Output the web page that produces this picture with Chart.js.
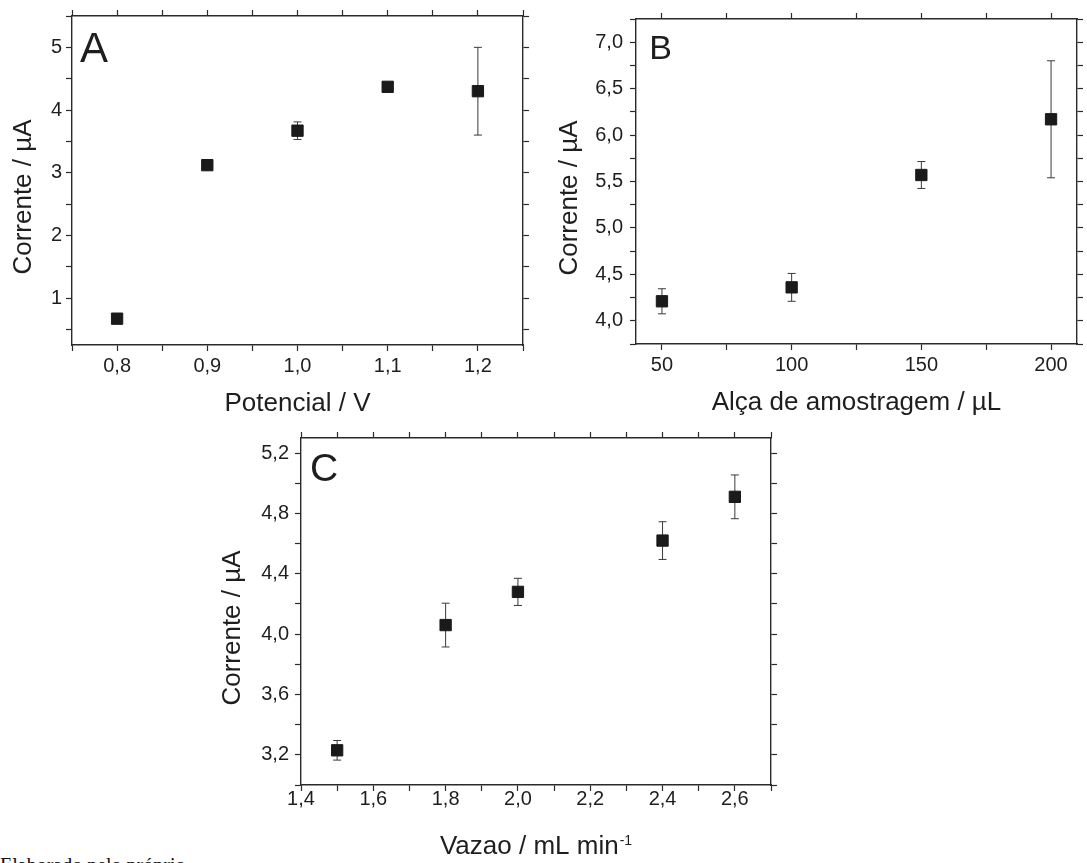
<!DOCTYPE html>
<html>
<head>
<meta charset="utf-8" />
<title>Corrente vs. parametros</title>
<script src="https://cdn.jsdelivr.net/npm/chart.js@4.4.1/dist/chart.umd.min.js"></script>
<style>
  body { margin: 0; background: #fff; width: 1087px; height: 863px; overflow: hidden; position: relative; }
  canvas { position: absolute; }
  #fonte { position: absolute; left: 0; top: 855px; font: 20px/20px "Liberation Serif", "Times New Roman", serif; color: #111; white-space: nowrap; }
</style>
</head>
<body>
<canvas id="graficoA" width="540" height="420" style="left:0;top:0"></canvas>
<canvas id="graficoB" width="547" height="420" style="left:540px;top:0"></canvas>
<canvas id="graficoC" width="600" height="443" style="left:200px;top:420px"></canvas>
<div id="fonte">Elaborado pelo próprio</div>

<script>
// ---- A : potencial
var potencial = [0.8, 0.9, 1.0, 1.1, 1.2];
var correnteA = [0.67, 3.12, 3.67, 4.37, 4.30];
var erroA = [0.03, 0.03, 0.14, 0.04, 0.70];
var ticksAX = [0.8, 0.9, 1.0, 1.1, 1.2];
var labelsAX = ['0,8', '0,9', '1,0', '1,1', '1,2'];
var ticksAY = [1, 2, 3, 4, 5];
var labelsAY = ['1', '2', '3', '4', '5'];

// ---- B : alca de amostragem
var alca = [50, 100, 150, 200];
var correnteB = [4.21, 4.36, 5.57, 6.17];
var erroB = [0.135, 0.15, 0.145, 0.63];
var ticksBX = [50, 100, 150, 200];
var labelsBX = ['50', '100', '150', '200'];
var ticksBY = [4.0, 4.5, 5.0, 5.5, 6.0, 6.5, 7.0];
var labelsBY = ['4,0', '4,5', '5,0', '5,5', '6,0', '6,5', '7,0'];

// ---- C : vazao
var vazao = [1.5, 1.8, 2.0, 2.4, 2.6];
var correnteC = [3.23, 4.06, 4.28, 4.62, 4.91];
var erroC = [0.065, 0.145, 0.09, 0.125, 0.145];
var ticksCX = [1.4, 1.6, 1.8, 2.0, 2.2, 2.4, 2.6];
var labelsCX = ['1,4', '1,6', '1,8', '2,0', '2,2', '2,4', '2,6'];
var ticksCY = [3.2, 3.6, 4.0, 4.4, 4.8, 5.2];
var labelsCY = ['3,2', '3,6', '4,0', '4,4', '4,8', '5,2'];

var fonte = '"Liberation Sans", Arial, Helvetica, sans-serif';
var cor = '#1e1e1e';
var corEixo = '#2a2a2a';

// major + minor tick positions between min and max
function marcas(min, max, passo) {
	var out = [];
	var v0 = Math.ceil(min / passo - 1e-9);
	for (var i = v0; i * passo <= max + 1e-9; i++) {
		out.push(Math.round(i * passo * 1e6) / 1e6);
	}
	return out;
}

function rotulo(valores, textos) {
	return function (v) {
		for (var i = 0; i < valores.length; i++) {
			if (Math.abs(valores[i] - v) < 1e-6) return textos[i];
		}
		return '';
	};
}

function eixo(pos, min, max, passo, cb, tam, pad) {
	var horizontal = (pos == 'bottom' || pos == 'top');
	return {
		type: 'linear',
		position: pos,
		min: min,
		max: max,
		afterBuildTicks: function (s) {
			s.ticks = marcas(min, max, passo).map(function (v) { return { value: v }; });
		},
		afterFit: function (s) {
			if (horizontal) s.height = tam; else s.width = tam;
		},
		ticks: {
			autoSkip: false,
			maxRotation: 0,
			padding: pad,
			color: cor,
			font: { family: fonte, size: 20 },
			callback: cb
		},
		grid: { drawOnChartArea: false, tickLength: 6, tickColor: corEixo, tickWidth: 1.2 },
		border: { display: true, color: corEixo, width: 1.4 }
	};
}

function nada() { return ''; }

// error bars drawn through the chart's own scales
function barrasErro(erros) {
	return {
		id: 'barrasErro',
		beforeDatasetsDraw: function (chart) {
			var ctx = chart.ctx;
			var xs = chart.scales.x, ys = chart.scales.y;
			var d = chart.data.datasets[0].data;
			ctx.save();
			ctx.strokeStyle = '#3a3a3a';
			ctx.lineWidth = 1;
			for (var i = 0; i < d.length; i++) {
				var px = xs.getPixelForValue(d[i].x);
				var y1 = ys.getPixelForValue(d[i].y + erros[i]);
				var y2 = ys.getPixelForValue(d[i].y - erros[i]);
				ctx.beginPath();
				ctx.moveTo(px, y1); ctx.lineTo(px, y2);
				ctx.moveTo(px - 4, y1); ctx.lineTo(px + 4, y1);
				ctx.moveTo(px - 4, y2); ctx.lineTo(px + 4, y2);
				ctx.stroke();
			}
			ctx.restore();
		}
	};
}

// axis titles and panel letter
function rotulos(r) {
	return {
		id: 'rotulos',
		afterDraw: function (chart) {
			var ctx = chart.ctx, a = chart.chartArea;
			ctx.save();
			ctx.fillStyle = cor;
			ctx.textBaseline = 'middle';
			var f = '26px ' + fonte;
			ctx.font = f;
			var w1 = ctx.measureText(r.tituloX).width;
			var w2 = 0;
			if (r.sup) {
				ctx.font = '14px ' + fonte;
				w2 = ctx.measureText(r.sup).width + 1;
			}
			var x0 = (a.left + a.right) / 2 - (w1 + w2) / 2;
			var y0 = a.bottom + r.dyX;
			ctx.font = f;
			ctx.textAlign = 'left';
			ctx.fillText(r.tituloX, x0, y0);
			if (r.sup) {
				ctx.font = '14px ' + fonte;
				ctx.fillText(r.sup, x0 + w1 + 1, y0 - 6);
			}
			ctx.save();
			ctx.translate(a.left - r.dxY, (a.top + a.bottom) / 2 + 16.5);
			ctx.rotate(-Math.PI / 2);
			ctx.font = f;
			ctx.textAlign = 'center';
			ctx.fillText(r.tituloY, 0, 0);
			ctx.restore();
			ctx.font = r.tamLetra + 'px ' + fonte;
			ctx.textAlign = 'left';
			ctx.textBaseline = 'alphabetic';
			ctx.fillText(r.letra, a.left + r.dxL, a.top + r.dyL);
			ctx.restore();
		}
	};
}

function pontos(xs, ys) {
	return xs.map(function (v, i) { return { x: v, y: ys[i] }; });
}

function grafico(id, xs, ys, erros, escalas, r) {
	return new Chart(document.getElementById(id), {
		type: 'scatter',
		data: {
			datasets: [{
				data: pontos(xs, ys),
				pointStyle: 'rect',
				pointRadius: 8,
				pointHoverRadius: 8,
				backgroundColor: '#1a1a1a',
				borderColor: '#1a1a1a',
				borderWidth: 1
			}]
		},
		options: {
			responsive: false,
			animation: false,
			devicePixelRatio: 1,
			layout: { padding: 0 },
			plugins: { legend: { display: false }, tooltip: { enabled: false } },
			scales: escalas
		},
		plugins: [barrasErro(erros), rotulos(r)]
	});
}

// A
grafico('graficoA', potencial, correnteA, erroA, {
	x: eixo('bottom', 0.75, 1.25, 0.05, rotulo(ticksAX, labelsAX), 75, 3),
	y: eixo('left', 0.25, 5.5, 0.5, rotulo(ticksAY, labelsAY), 72, 4),
	xTop: eixo('top', 0.75, 1.25, 0.05, nada, 12, 0),
	yRight: eixo('right', 0.25, 5.5, 0.5, nada, 17, 0)
}, { tituloX: 'Potencial / V', tituloY: 'Corrente / \u00b5A', dyX: 58.5, dxY: 48.3, letra: 'A', tamLetra: 42, dxL: 8, dyL: 46.3 });

// B
grafico('graficoB', alca, correnteB, erroB, {
	x: eixo('bottom', 40, 210, 25, rotulo(ticksBX, labelsBX), 76, 3),
	y: eixo('left', 3.75, 7.25, 0.25, rotulo(ticksBY, labelsBY), 96, 7),
	xTop: eixo('top', 40, 210, 25, nada, 12, 0),
	yRight: eixo('right', 3.75, 7.25, 0.25, nada, 10, 0)
}, { tituloX: 'Al\u00e7a de amostragem / \u00b5L', tituloY: 'Corrente / \u00b5A', dyX: 59, dxY: 66, letra: 'B', tamLetra: 34, dxL: 13.2, dyL: 39.7 });

// C
grafico('graficoC', vazao, correnteC, erroC, {
	x: eixo('bottom', 1.4, 2.7, 0.1, rotulo(ticksCX, labelsCX), 78, -4),
	y: eixo('left', 3.0, 5.3, 0.2, rotulo(ticksCY, labelsCY), 101, 6),
	xTop: eixo('top', 1.4, 2.7, 0.1, nada, 18, 0),
	yRight: eixo('right', 3.0, 5.3, 0.2, nada, 29, 0)
}, { tituloX: 'Vazao / mL min', sup: '-1', tituloY: 'Corrente / \u00b5A', dyX: 62.3, dxY: 68, letra: 'C', tamLetra: 39, dxL: 9, dyL: 43.4 });
</script>
</body>
</html>
